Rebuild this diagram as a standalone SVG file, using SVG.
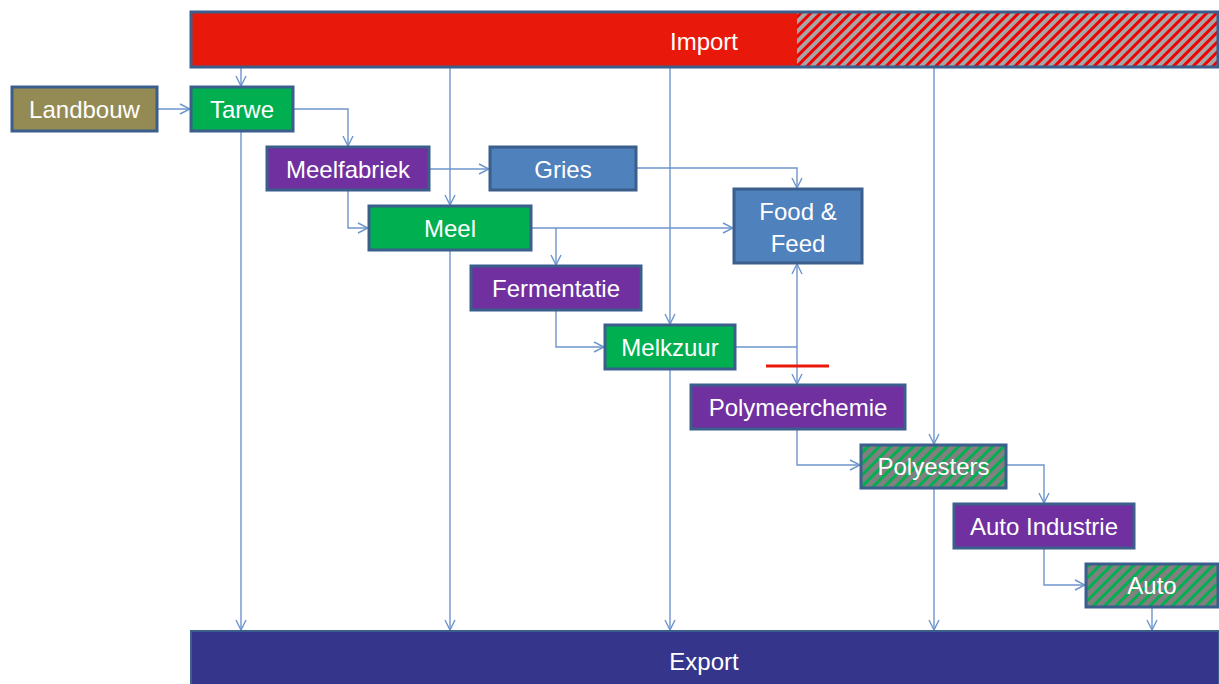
<svg xmlns="http://www.w3.org/2000/svg" width="1219" height="684" viewBox="0 0 1219 684">
<style>
.box{stroke:#3B5E8C;stroke-width:3}
.t{font-family:"Liberation Sans",Arial,sans-serif;font-size:24px;fill:#fff;text-anchor:middle;dominant-baseline:central}
.c{fill:none;stroke:#6D95CC;stroke-width:1.4;marker-end:url(#a)}
.n{fill:none;stroke:#6D95CC;stroke-width:1.4}
</style>
<defs>
<marker id="a" viewBox="0 0 12 12" refX="12" refY="6" markerWidth="12" markerHeight="12" markerUnits="userSpaceOnUse" orient="auto">
<path d="M1,1 L11,6 L1,11" fill="none" stroke="#6D95CC" stroke-width="1.4"/>
</marker>
<pattern id="hr" patternUnits="userSpaceOnUse" width="7" height="7" patternTransform="rotate(45)">
<rect width="7" height="7" fill="#A6A6A6"/><rect width="3" height="7" fill="#F00000"/>
</pattern>
<pattern id="hg" patternUnits="userSpaceOnUse" width="8" height="8" patternTransform="rotate(45)">
<rect width="8" height="8" fill="#808080"/><rect width="3" height="8" fill="#00B050"/>
</pattern>
</defs>
<g id="connectors">
<path class="c" d="M241,67 V87"/>
<path class="c" d="M157,109 H191"/>
<path class="c" d="M293,109 H348 V147"/>
<path class="c" d="M241,131 V631"/>
<path class="c" d="M450,67 V206"/>
<path class="c" d="M450,250 V631"/>
<path class="c" d="M429,169 H490"/>
<path class="c" d="M348,190 V228 H369"/>
<path class="c" d="M636,168 H797 V189"/>
<path class="c" d="M531,228 H734"/>
<path class="c" d="M556,228 V266"/>
<path class="c" d="M670,67 V325"/>
<path class="c" d="M670,369 V631"/>
<path class="c" d="M556,310 V347 H605"/>
<path class="n" d="M735,347 H797"/>
<path class="c" d="M797,347 V263"/>
<path class="c" d="M797,347 V385"/>
<path d="M766,366 H829" stroke="#E8190A" stroke-width="3"/>
<path class="c" d="M797,429 V465 H861"/>
<path class="c" d="M934,67 V445"/>
<path class="c" d="M934,488 V631"/>
<path class="c" d="M1006,465 H1044 V504"/>
<path class="c" d="M1044,548 V585 H1086"/>
<path class="c" d="M1152,607 V631"/>
</g>
<g id="import">
<rect x="191" y="12" width="1027" height="55" fill="#E8190A"/>
<rect x="797" y="12" width="421" height="55" fill="url(#hr)"/>
<rect class="box" x="191" y="12" width="1027" height="55" fill="none"/>
<text class="t" x="704" y="41">Import</text>
</g>
<g id="landbouw"><rect class="box" x="12" y="87" width="145" height="44" fill="#948A54"/><text class="t" x="84.5" y="109">Landbouw</text></g>
<g id="tarwe"><rect class="box" x="191" y="87" width="102" height="44" fill="#00B050"/><text class="t" x="242" y="109">Tarwe</text></g>
<g id="meelfabriek"><rect class="box" x="267" y="147" width="162" height="43" fill="#7030A0"/><text class="t" x="348" y="169">Meelfabriek</text></g>
<g id="gries"><rect class="box" x="490" y="147" width="146" height="43" fill="#4F81BD"/><text class="t" x="563" y="169">Gries</text></g>
<g id="meel"><rect class="box" x="369" y="206" width="162" height="44" fill="#00B050"/><text class="t" x="450" y="228">Meel</text></g>
<g id="foodfeed"><rect class="box" x="734" y="189" width="128" height="74" fill="#4F81BD"/><text class="t" x="798" y="211">Food &amp;</text><text class="t" x="798" y="243">Feed</text></g>
<g id="fermentatie"><rect class="box" x="471" y="266" width="170" height="44" fill="#7030A0"/><text class="t" x="556" y="288">Fermentatie</text></g>
<g id="melkzuur"><rect class="box" x="605" y="325" width="130" height="44" fill="#00B050"/><text class="t" x="670" y="347">Melkzuur</text></g>
<g id="polymeerchemie"><rect class="box" x="691" y="385" width="214" height="44" fill="#7030A0"/><text class="t" x="798" y="407">Polymeerchemie</text></g>
<g id="polyesters"><rect class="box" x="861" y="445" width="145" height="43" fill="url(#hg)"/><text class="t" x="933.5" y="466">Polyesters</text></g>
<g id="autoindustrie"><rect class="box" x="954" y="504" width="180" height="44" fill="#7030A0"/><text class="t" x="1044" y="526">Auto Industrie</text></g>
<g id="auto"><rect class="box" x="1086" y="564" width="132" height="43" fill="url(#hg)"/><text class="t" x="1152" y="585">Auto</text></g>
<g id="export"><rect x="191" y="631" width="1028" height="55" fill="#35358C" stroke="#3B5E8C" stroke-width="2"/><text class="t" x="704" y="661">Export</text></g>
</svg>
